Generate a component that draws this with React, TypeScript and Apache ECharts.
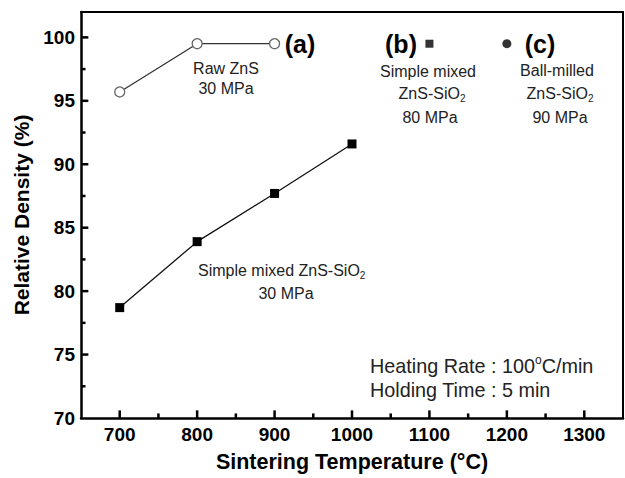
import React, { useEffect, useRef } from "react";
import * as echarts from "echarts";

const temps = [700, 800, 900, 1000];
const rawZnS = [95.7, 99.5, 99.5];
const simpleMixed30 = [78.7, 83.9, 87.7, 91.6];
const pointB: [number, number] = [1100, 99.5];
const pointC: [number, number] = [1200, 99.5];
const xRange = [650, 1350];
const yRange = [70, 102];
const xMajor = [700, 800, 900, 1000, 1100, 1200, 1300];
const xMinor = [750, 850, 950, 1050, 1150, 1250];
const yMajor = [75, 80, 85, 90, 95, 100];
const yMinor = [72.5, 77.5, 82.5, 87.5, 92.5, 97.5];

const FONT = "Arial, 'Liberation Sans', Helvetica, sans-serif";

export default function App() {
  const ref = useRef<HTMLDivElement>(null);
  useEffect(() => {
    if (!ref.current) return;
    const chart = echarts.init(ref.current, undefined, { renderer: "svg" });
    const small = { fontSize: 16, fontFamily: FONT, color: "#222", lineHeight: 20 };
    const sub = { fontSize: 10, fontFamily: FONT, color: "#222", lineHeight: 10, verticalAlign: "bottom" };
    const txt = (x: number, y: number, text: string, align = "center", extra: any = {}) => ({
      type: "text",
      x,
      y,
      style: {
        text,
        align,
        verticalAlign: "middle",
        font: `16px ${FONT}`,
        fill: "#222",
        rich: { n: small, s: sub, ...extra.rich },
      },
      z: 10,
    });
    const bold = (x: number, y: number, text: string) => ({
      type: "text",
      x,
      y,
      style: { text, align: "center", verticalAlign: "middle", font: `bold 25px ${FONT}`, fill: "#000" },
      z: 10,
    });
    const big = { fontSize: 19.8, fontFamily: FONT, color: "#222", lineHeight: 24 };
    const sup = { fontSize: 12, fontFamily: FONT, color: "#222", lineHeight: 12, verticalAlign: "top" };
    const tickLabel = { fontSize: 19, fontWeight: "bold", fontFamily: FONT, color: "#000" };

    // tick lengths expressed in data units of the other axis
    const X_MAJOR_LEN = 0.6; // y units (~7.5px)
    const X_MINOR_LEN = 0.36;
    const Y_MAJOR_LEN = 9.5; // x units (~7.5px)
    const Y_MINOR_LEN = 5.8;

    const tick = (a: [number, number], b: [number, number]) => ({
      type: "line",
      data: [a, b],
      symbol: "none",
      silent: true,
      clip: false,
      z: 6,
      lineStyle: { color: "#000", width: 2.5, cap: "butt" },
    });
    const tickSeries = [
      ...xMajor.map((v) => tick([v, yRange[0]], [v, yRange[0] + X_MAJOR_LEN])),
      ...xMinor.map((v) => tick([v, yRange[0]], [v, yRange[0] + X_MINOR_LEN])),
      ...yMajor.map((v) => tick([xRange[0], v], [xRange[0] + Y_MAJOR_LEN, v])),
      ...yMinor.map((v) => tick([xRange[0], v], [xRange[0] + Y_MINOR_LEN, v])),
    ];

    const frameAxis = { axisTick: { show: false }, axisLabel: { show: false }, splitLine: { show: false } };

    chart.setOption({
      animation: false,
      tooltip: { show: false },
      grid: { left: 81, right: 2, top: 12, bottom: 54 },
      xAxis: [
        {
          type: "value",
          min: xRange[0],
          max: xRange[1],
          position: "bottom",
          name: "Sintering Temperature (°C)",
          nameLocation: "middle",
          nameGap: 33,
          nameTextStyle: { fontSize: 21.5, fontWeight: "bold", fontFamily: FONT, color: "#000" },
          axisLine: { show: true, lineStyle: { color: "#000", width: 2.5 } },
          axisTick: { show: false },
          axisLabel: { ...tickLabel, margin: 7, customValues: xMajor, formatter: (v: number) => String(v) },
          splitLine: { show: false },
        },
        {
          type: "value",
          min: xRange[0],
          max: xRange[1],
          position: "top",
          axisLine: { show: true, lineStyle: { color: "#000", width: 2 } },
          ...frameAxis,
        },
      ],
      yAxis: [
        {
          type: "value",
          min: yRange[0],
          max: yRange[1],
          position: "left",
          name: "Relative Density (%)",
          nameLocation: "middle",
          nameGap: 47,
          nameTextStyle: { fontSize: 21, fontWeight: "bold", fontFamily: FONT, color: "#000" },
          axisLine: { show: true, lineStyle: { color: "#000", width: 2.5 } },
          axisTick: { show: false },
          axisLabel: { ...tickLabel, margin: 6, customValues: [70, ...yMajor], formatter: (v: number) => String(v) },
          splitLine: { show: false },
        },
        {
          type: "value",
          min: yRange[0],
          max: yRange[1],
          position: "right",
          axisLine: { show: true, lineStyle: { color: "#000", width: 2 } },
          ...frameAxis,
        },
      ],
      series: [
        ...tickSeries,
        {
          type: "line",
          data: rawZnS.map((v, i) => [temps[i], v]),
          symbol: "circle",
          symbolSize: 10,
          lineStyle: { color: "#333", width: 1.3 },
          itemStyle: { color: "#fff", borderColor: "#666", borderWidth: 1.3 },
          z: 3,
        },
        {
          type: "line",
          data: simpleMixed30.map((v, i) => [temps[i], v]),
          symbol: "rect",
          symbolSize: 9,
          lineStyle: { color: "#111", width: 1.3 },
          itemStyle: { color: "#000" },
          z: 3,
        },
        {
          type: "scatter",
          data: [pointB],
          symbol: "rect",
          symbolSize: 8,
          itemStyle: { color: "#000" },
        },
        {
          type: "scatter",
          data: [pointC],
          symbol: "circle",
          symbolSize: 9,
          itemStyle: { color: "#000" },
        },
      ],
      graphic: [
        bold(300, 44, "(a)"),
        bold(401, 44, "(b)"),
        bold(540, 44, "(c)"),
        txt(226, 68, "Raw ZnS"),
        txt(226, 88, "30 MPa"),
        txt(428, 71, "Simple mixed"),
        txt(432, 93, "{n|ZnS-SiO}{s|2}"),
        txt(430, 117, "80 MPa"),
        txt(557, 70, "Ball-milled"),
        txt(560, 93, "{n|ZnS-SiO}{s|2}"),
        txt(560, 117, "90 MPa"),
        txt(198, 270, "{n|Simple mixed ZnS-SiO}{s|2}", "left"),
        txt(286, 293, "30 MPa"),
        txt(370, 366, "{m|Heating Rate : 100}{p|o}{m|C/min}", "left", { rich: { m: big, p: sup } }),
        txt(370, 390, "{m|Holding Time : 5 min}", "left", { rich: { m: big } }),
      ],
    });
    return () => chart.dispose();
  }, []);
  return <div ref={ref} style={{ width: 625, height: 478, position: "absolute", left: 0, top: 0 }} />;
}
